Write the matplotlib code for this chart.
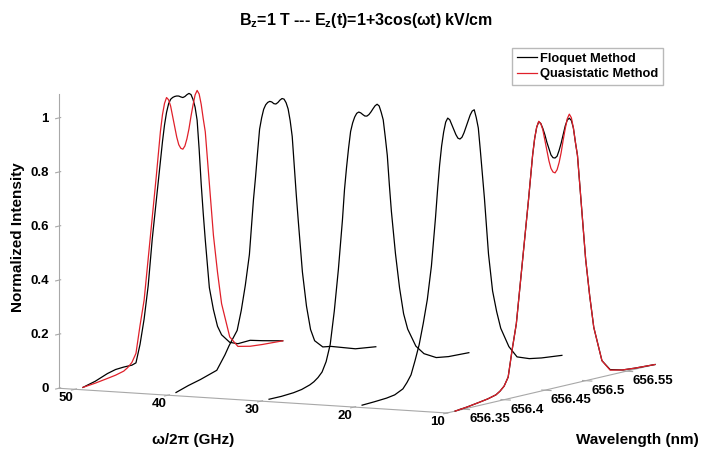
import numpy as np
import matplotlib
matplotlib.use('Agg')
import matplotlib.pyplot as plt
from matplotlib.lines import Line2D
from mpl_toolkits.mplot3d import proj3d

plt.rcParams['font.family'] = 'Liberation Sans'
plt.rcParams['font.weight'] = 'bold'
plt.rcParams['mathtext.fontset'] = 'custom'
plt.rcParams['mathtext.rm'] = 'Liberation Sans:bold'
plt.rcParams['mathtext.default'] = 'rm'

# wavelength grid (nm), denser across the line tops
wavelength = [656.340, 656.355, 656.370, 656.380, 656.390, 656.395, 656.400,
              656.405, 656.410, 656.415, 656.420, 656.425, 656.430, 656.4325,
              656.435, 656.4375, 656.440, 656.4425, 656.445, 656.4475, 656.450,
              656.4525, 656.455, 656.4575, 656.460, 656.4625, 656.465, 656.4675,
              656.470, 656.4725, 656.475, 656.4775, 656.480, 656.4825, 656.485,
              656.4875, 656.490, 656.495, 656.500, 656.505, 656.510, 656.520,
              656.530, 656.545, 656.560, 656.585]

freqs = [50, 40, 30, 20, 10]   # omega/2pi in GHz

floquet_50 = [0.0, 0.012, 0.03, 0.038, 0.04, 0.04, 0.04, 0.045, 0.11, 0.20,
              0.32, 0.49, 0.63,
              0.70, 0.77, 0.84, 0.90, 0.945, 0.975, 0.99, 0.995, 0.997, 0.997,
              0.995, 0.99, 0.986, 0.988, 0.993, 0.996, 0.99, 0.97, 0.94, 0.89,
              0.78, 0.65, 0.54, 0.44,
              0.26, 0.175, 0.11, 0.075, 0.04, 0.028, 0.03, 0.018, 0.0]
floquet_40 = [0.003, 0.018, 0.03, 0.04, 0.05, 0.075, 0.10, 0.13, 0.155, 0.18,
              0.25, 0.34, 0.45,
              0.55, 0.65, 0.73, 0.82, 0.905, 0.945, 0.975, 0.99, 0.997, 0.999,
              0.995, 0.987, 0.984, 0.988, 0.995, 0.999, 0.995, 0.98, 0.955, 0.91,
              0.85, 0.74, 0.63, 0.53,
              0.34, 0.21, 0.12, 0.075, 0.045, 0.04, 0.025, 0.01, 0.0]
floquet_30 = [0.0, 0.0, 0.003, 0.008, 0.018, 0.026, 0.038, 0.055, 0.09, 0.15,
              0.27, 0.42, 0.60,
              0.71, 0.79, 0.86, 0.92, 0.95, 0.97, 0.982, 0.985, 0.98, 0.972,
              0.965, 0.963, 0.967, 0.975, 0.985, 0.994, 0.998, 0.99, 0.965, 0.935,
              0.87, 0.80, 0.69, 0.59,
              0.43, 0.30, 0.20, 0.14, 0.07, 0.035, 0.01, 0.003, 0.0]
floquet_20 = [0.0, 0.002, 0.005, 0.01, 0.025, 0.045, 0.07, 0.12, 0.175, 0.25,
              0.335, 0.455, 0.63,
              0.73, 0.82, 0.89, 0.94, 0.975, 0.988, 0.98, 0.96, 0.94, 0.92,
              0.905, 0.90, 0.905, 0.92, 0.94, 0.96, 0.98, 0.993, 0.996, 0.965,
              0.925, 0.84, 0.75, 0.66,
              0.45, 0.31, 0.23, 0.165, 0.09, 0.045, 0.028, 0.02, 0.012]
floquet_10 = [0.0, 0.005, 0.012, 0.017, 0.025, 0.035, 0.05, 0.08, 0.18, 0.27,
              0.42, 0.57, 0.72,
              0.80, 0.88, 0.94, 0.98, 0.998, 0.99, 0.97, 0.945, 0.915, 0.89,
              0.865, 0.853, 0.85, 0.855, 0.875, 0.90, 0.93, 0.96, 0.98, 0.985,
              0.975, 0.945, 0.89, 0.84,
              0.645, 0.45, 0.31, 0.19, 0.06, 0.02, 0.008, 0.004, 0.0]
floquet = [floquet_50, floquet_40, floquet_30, floquet_20, floquet_10]

# quasistatic profile does not depend on omega, drawn at 50 and 10 GHz
quasistatic = [0.0, 0.005, 0.012, 0.017, 0.025, 0.035, 0.05, 0.08, 0.18, 0.27,
               0.42, 0.57, 0.72,
               0.80, 0.88, 0.94, 0.98, 1.0, 0.99, 0.965, 0.925, 0.885, 0.845,
               0.815, 0.80, 0.795, 0.805, 0.83, 0.865, 0.91, 0.95, 0.985, 1.0,
               0.985, 0.945, 0.89, 0.84,
               0.645, 0.45, 0.31, 0.19, 0.06, 0.018, 0.008, 0.004, 0.0]
quasi_freqs = [50, 10]

wl_ticks = [656.35, 656.4, 656.45, 656.5, 656.55]
wl_labels = ['656.35', '656.4', '656.45', '656.5', '656.55']
f_ticks = [10, 20, 30, 40, 50]
f_labels = ['10', '20', '30', '40', '50']
z_ticks = [0, 0.2, 0.4, 0.6, 0.8, 1]
z_labels = ['0', '0.2', '0.4', '0.6', '0.8', '1']

xlim = (656.33, 656.585)
ylim = (10, 51.7)
zlim = (0, 1.09)

W, H = 701, 461
fig = plt.figure(figsize=(W / 100, H / 100), dpi=100)
ax = fig.add_axes([0.05, 0.05, 0.9, 0.9], projection='3d', proj_type='ortho')
ax.computed_zorder = False
ax.view_init(elev=7, azim=-152.4)
ax.set_box_aspect((449, 438, 297))

red = '#e0202a'
for f, spec in zip(freqs, floquet):
    ax.plot(wavelength, np.full(len(wavelength), f), spec, color='black', lw=0.9)
for f in quasi_freqs:
    ax.plot(wavelength, np.full(len(wavelength), f), quasistatic, color=red, lw=0.9)

ax.set_xlim(*xlim)
ax.set_ylim(*ylim)
ax.set_zlim(*zlim)
# tick marks from mplot3d, labels placed below by hand next to each tick
ax.set_xticks(wl_ticks)
ax.set_xticklabels([''] * len(wl_ticks))
ax.set_yticks(f_ticks)
ax.set_yticklabels([''] * len(f_ticks))
ax.set_zticks(z_ticks)
ax.set_zticklabels([''] * len(z_ticks))
ax.grid(False)
for axis in (ax.xaxis, ax.yaxis, ax.zaxis):
    axis.pane.set_visible(False)
    axis.line.set_color('#a8a8a8')
    axis.line.set_linewidth(0.8)
ax.tick_params(axis='both', colors='#a8a8a8')
ax.tick_params(axis='z', colors='#a8a8a8')

# fit the projected box onto the reference pixel layout
fig.canvas.draw()


def to_px(x, y, z):
    xs, ys, _ = proj3d.proj_transform(x, y, z, ax.get_proj())
    return np.array(ax.transData.transform((xs, ys)))


A = to_px(xlim[0], ylim[0], 0)
B = to_px(xlim[0], ylim[1], 0)
At = np.array([447, H - 413])
Bt = np.array([59, H - 388])
k = np.linalg.norm(Bt - At) / np.linalg.norm(B - A)
pos = ax.get_position()
p0 = np.array([pos.x0 * W, pos.y0 * H])
side = pos.width * W
n0 = At - k * (A - p0)
ax.set_position([n0[0] / W, n0[1] / H, side * k / W, side * k / H])
fig.canvas.draw()

tick_font = dict(fontsize=9.5, color='black')
for t, s in zip(wl_ticks, wl_labels):
    px, py = to_px(t, ylim[0], 0)
    fig.text((px + 6) / W, (py - 10) / H, s, ha='left', va='center', **tick_font)
for t, s in zip(f_ticks, f_labels):
    px, py = to_px(xlim[0], t, 0)
    fig.text((px - 9) / W, (py - 9) / H, s, ha='center', va='center', **tick_font)
for t, s in zip(z_ticks, z_labels):
    px, py = to_px(xlim[0], ylim[1], t)
    fig.text((px - 10) / W, (py - 1) / H, s, ha='right', va='center', **tick_font)

fig.text(366 / W, 1 - 21 / H, r'B$_z$=1 T --- E$_z$(t)=1+3cos(ωt) kV/cm',
         ha='center', va='center', fontsize=11.5)
fig.text(18 / W, 1 - 237 / H, 'Normalized Intensity', rotation=90,
         ha='center', va='center', fontsize=11)
fig.text(193 / W, 1 - 440 / H, 'ω/2π (GHz)', ha='center', va='center', fontsize=11)
fig.text(637 / W, 1 - 440 / H, 'Wavelength (nm)', ha='center', va='center', fontsize=11)

handles = [Line2D([], [], color='black', lw=0.9),
           Line2D([], [], color=red, lw=0.9)]
fig.legend(handles, ['Floquet Method', 'Quasistatic Method'],
           loc='upper left', bbox_to_anchor=(512 / W, 1 - 48 / H),
           fontsize=9.3, frameon=True, fancybox=False, edgecolor='#a8a8a8',
           handlelength=1.6, handletextpad=0.2, borderpad=0.35,
           labelspacing=0.3, borderaxespad=0)

fig.savefig('out.png', dpi=100)
